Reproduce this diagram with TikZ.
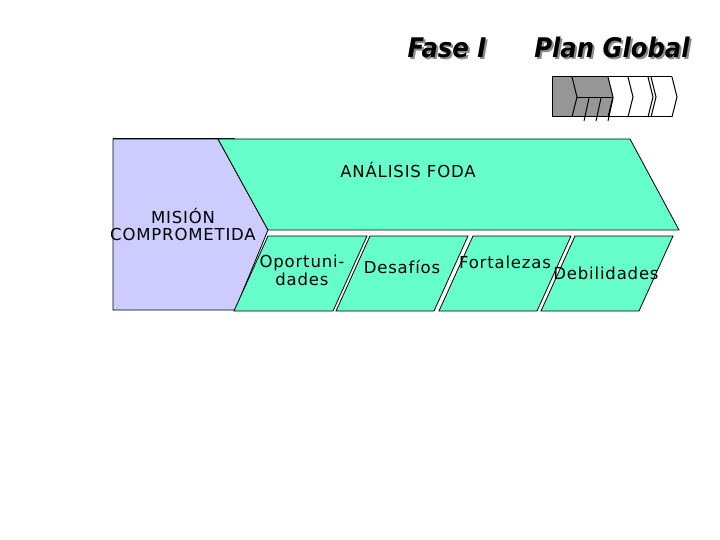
\documentclass[tikz,border=0pt]{standalone}
\usepackage{fontspec}
\setmainfont{DejaVu Sans}[LetterSpace=5]
\definecolor{mision}{RGB}{204,204,255}
\definecolor{foda}{RGB}{102,255,204}
\definecolor{iconfill}{RGB}{150,150,150}
% title text with a grey drop shadow
\newcommand{\shadowtitle}[1]{\makebox[0pt][l]{\hspace{2pt}\raisebox{-2pt}{\color{black!45}#1}}#1}
\tikzset{
  txt/.style={font=\fontsize{16.5}{17.5}\selectfont, inner sep=0pt, anchor=base},
  ttl/.style={font=\fontsize{27}{28}\selectfont\bfseries\itshape\addfontfeature{LetterSpace=0,FakeStretch=0.9}, inner sep=0pt, anchor=base},
  part/.style={draw, line width=0.8pt, fill=foda}
}
\begin{document}
\begin{tikzpicture}[x=1pt,y=-1pt]
\useasboundingbox (0,0) rectangle (720,540);
% titles
\node[ttl] (fase) at (447,58) {\shadowtitle{Fase I}};
\node[ttl] (plan) at (612,58) {\shadowtitle{Plan Global}};
% small progress icon
\fill[iconfill] (552,77) -- (608,77) -- (613,97) -- (608,117) -- (552,117) -- cycle;
\draw[line width=1pt] (672,77) -- (552,77) -- (552,117) -- (672,117);
\foreach \x in {572,608,628,648,651,672}
  \draw[line width=1pt] (\x,77) -- (\x+5,97) -- (\x,117);
\draw[line width=1pt] (577,98) -- (613,98);
\foreach \x in {589,601,613}
  \draw[line width=1pt] (\x,98) -- (\x-5,121);
% mision block
\draw[line width=0.8pt, fill=mision] (113,139) -- (218,139) -- (268,230) -- (235,310) -- (113,310) -- cycle;
\draw[line width=1pt] (113,139) -- (235,139);
% foda block
\draw[part] (218,139) -- (630,139) -- (679,230) -- (268,230) -- cycle;
\foreach \x/\w in {268/99,370/98,473/98,575/98}
  \draw[part] (\x,236) -- ++(\w,0) -- ++(-34,75) -- ++(-\w,0) -- cycle;
% labels
\node[txt] (foda) at (408,178) {ANÁLISIS FODA};
\node[txt, align=center, anchor=north] (mis) at (183,208) {MISIÓN\\COMPROMETIDA};
\node[txt, align=center, anchor=north] (opo) at (302,255) {Oportuni-\\dades};
\node[txt] (des) at (402,273) {Desafíos};
\node[txt] (fort) at (505,268) {Fortalezas};
\node[txt] (deb) at (606,279) {Debilidades};
\end{tikzpicture}
\end{document}
